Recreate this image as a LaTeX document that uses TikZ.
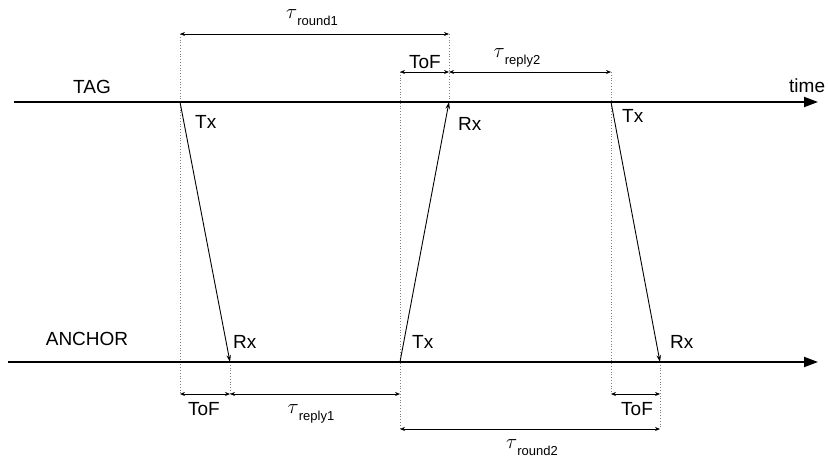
\documentclass[tikz,border=0pt]{standalone}
\usepackage{fontspec}
\setmainfont{Liberation Sans}
\usetikzlibrary{arrows.meta}
\begin{document}
\begin{tikzpicture}[x=1pt,y=-1pt,
  timeline/.style={line width=2pt,-{Triangle[length=14pt,width=10pt]}},
  msg/.style={line width=0.9pt,-{Stealth[length=7pt,width=4.5pt]}},
  dimline/.style={line width=0.8pt,{Stealth[length=5pt,width=4pt]}-{Stealth[length=5pt,width=4pt]}},
  guide/.style={gray,dotted,line width=0.8pt},
  lbl/.style={font=\fontsize{19}{22}\selectfont,inner sep=0pt},
  taulbl/.style={inner sep=0pt,anchor=base}]
\newcommand{\taulab}[1]{{\fontsize{21}{24}\selectfont$\tau$}\raisebox{-7pt}{\fontsize{13}{15}\selectfont #1}}
\useasboundingbox (0,0) rectangle (828,463);
% timeline ends
\coordinate (tagS) at (14,102);
\coordinate (tagE) at (818,102);
\coordinate (ancS) at (8,362);
\coordinate (ancE) at (818,362);
% events
\coordinate (tagTx1) at (180,102);
\coordinate (ancRx1) at (230,362);
\coordinate (ancTx) at (400,362);
\coordinate (tagRx) at (449,102);
\coordinate (tagTx2) at (611,102);
\coordinate (ancRx2) at (660,362);
% dimension endpoints
\coordinate (r1a) at (180,34);  \coordinate (r1b) at (449,34);
\coordinate (t1a) at (400,72);  \coordinate (t1b) at (449,72);
\coordinate (p2b) at (611,72);
\coordinate (b1a) at (180,394); \coordinate (b1b) at (230,394);
\coordinate (b1c) at (400,394);
\coordinate (b2a) at (611,394); \coordinate (b2b) at (660,394);
\coordinate (r2a) at (400,429); \coordinate (r2b) at (660,429);
% guides
\draw[guide] (r1a) -- (b1a);
\draw[guide] (ancRx1) -- (b1b);
\draw[guide] (t1a) -- (r2a);
\draw[guide] (r1b) -- (tagRx);
\draw[guide] (p2b) -- (b2a);
\draw[guide] (ancRx2) -- (r2b);
% timelines
\draw[timeline] (tagS) -- (tagE);
\draw[timeline] (ancS) -- (ancE);
% messages
\draw[msg] (tagTx1) -- (ancRx1);
\draw[msg] (ancTx) -- (tagRx);
\draw[msg] (tagTx2) -- (ancRx2);
% dimensions
\draw[dimline] (r1a) -- (r1b);
\draw[dimline] (t1a) -- (t1b);
\draw[dimline] (t1b) -- (p2b);
\draw[dimline] (b1a) -- (b1b);
\draw[dimline] (b1b) -- (b1c);
\draw[dimline] (b2a) -- (b2b);
\draw[dimline] (r2a) -- (r2b);
% labels
\node[lbl,anchor=base] (tag) at (92,93) {TAG};
\node[lbl,anchor=base] (anc) at (87,345) {ANCHOR};
\node[lbl,anchor=base west] (time) at (789,92) {time};
\node[lbl,anchor=base west] (lTx1) at (195,128) {Tx};
\node[lbl,anchor=base west] (lRx1) at (458,130) {Rx};
\node[lbl,anchor=base west] (lTx2) at (622,122) {Tx};
\node[lbl,anchor=base west] (lRxa) at (233,348) {Rx};
\node[lbl,anchor=base west] (lTxa) at (412,348) {Tx};
\node[lbl,anchor=base west] (lRxb) at (670,348) {Rx};
\node[lbl,anchor=base] (tof1) at (425,68) {ToF};
\node[lbl,anchor=base] (tof2) at (204,415) {ToF};
\node[lbl,anchor=base] (tof3) at (637,415) {ToF};
\node[taulbl] (round1) at (312,18) {\taulab{round1}};
\node[taulbl] (reply2) at (517,57) {\taulab{reply2}};
\node[taulbl] (reply1) at (311,413) {\taulab{reply1}};
\node[taulbl] (round2) at (532,448) {\taulab{round2}};
\end{tikzpicture}
\end{document}
